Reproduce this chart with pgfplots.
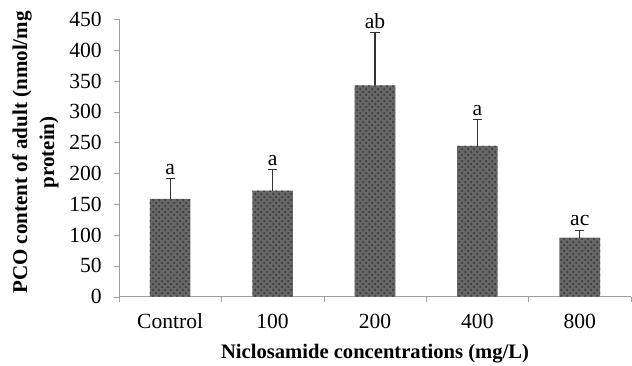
\documentclass[border=0pt]{standalone}
\usepackage{pgfplots}
\pgfplotsset{compat=1.18}
\usepackage{fontspec}
\setmainfont{Liberation Serif}
\usetikzlibrary{patterns}
\begin{document}
\begin{tikzpicture}
\useasboundingbox (-59.5pt,-34.15pt) rectangle (256.5pt,148.35pt);
\begin{axis}[
  at={(0,0)}, anchor=south west,
  scale only axis, width=256pt, height=138.7pt,
  xmin=-0.5, xmax=4.5, ymin=0, ymax=450,
  clip=false,
  axis x line*=bottom, axis y line*=left,
  axis line style={draw=gray!75, -},
  ytick={0,50,...,450},
  xtick={0,1,2,3,4},
  xticklabels={Control,100,200,400,800},
  minor xtick={-0.5,0.5,1.5,2.5,3.5,4.5},
  major x tick style={draw=none},
  minor x tick style={draw=gray!75},
  y tick style={draw=gray!75},
  tick align=outside,
  major tick length=2.5pt, minor tick length=2.5pt,
  /pgf/number format/assume math mode=true,
  tick label style={font=\fontsize{10.8}{12}\selectfont, black},
  xticklabel style={yshift=-2.6pt},
  yticklabel style={xshift=-2.6pt},
  ylabel={PCO content of adult (nmol/mg\\protein)},
  ylabel style={font=\bfseries\fontsize{10.5}{13.5}\selectfont, align=center, at={(axis description cs:-0.104,0.52)}, anchor=south},
  xlabel={Niclosamide concentrations (mg/L)},
  xlabel style={font=\bfseries\fontsize{10.3}{12}\selectfont, yshift=-0.6pt},
]
\addplot[ybar, bar width=20.3pt, draw=none, fill=black!60,
  postaction={pattern=crosshatch dots, pattern color=black!80},
  error bars/.cd, y dir=plus, y explicit,
  error bar style={black!80, line width=0.6pt},
  error mark options={rotate=90, mark size=2.3pt, black!80, line width=0.6pt}]
  coordinates {
  (0,158.5) +- (0,33.5)
  (1,172) +- (0,34)
  (2,343) +- (0,86)
  (3,244.5) +- (0,42.5)
  (4,96) +- (0,12)
  };
\addplot[draw=none, mark=none, nodes near coords, point meta=explicit symbolic,
  nodes near coords style={font=\fontsize{10.8}{12}\selectfont, anchor=south, inner sep=1.8pt, black}]
  coordinates {
  (0,192) [a]
  (1,206) [a]
  (2,429) [ab]
  (3,287) [a]
  (4,108) [ac]
  };
\end{axis}
\end{tikzpicture}
\end{document}
